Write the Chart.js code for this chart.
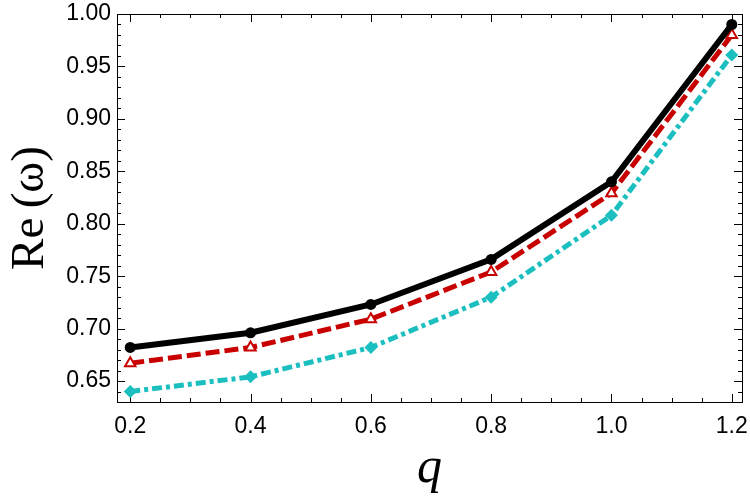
<!DOCTYPE html>
<html>
<head>
<meta charset="utf-8">
<script src="https://cdn.jsdelivr.net/npm/chart.js@4/dist/chart.umd.min.js"></script>
<style>
  html, body { margin: 0; padding: 0; background: #fff; }
  #wrap { width: 750px; height: 503px; position: relative; }
</style>
</head>
<body>
<div id="wrap"><canvas id="c" width="750" height="503"></canvas></div>
<script>
// ---- data ----
const qValues   = [0.2, 0.4, 0.6, 0.8, 1.0, 1.2];
const reBlack   = [0.682, 0.696, 0.723, 0.766, 0.840, 0.990];
const reRed     = [0.667, 0.682, 0.709, 0.754, 0.829, 0.980];
const reCyan    = [0.640, 0.654, 0.682, 0.730, 0.808, 0.961];
const xTickVals = [0.2, 0.4, 0.6, 0.8, 1.0, 1.2];
const yTickVals = [0.65, 0.70, 0.75, 0.80, 0.85, 0.90, 0.95, 1.00];
const xMinorStep = 0.05;
const yMinorStep = 0.01;
const xTitle = 'q';
const yTitle = 'Re\u2009(\u03C9)';

const toPts = ys => qValues.map((x, i) => ({ x: x, y: ys[i] }));

// inward ticks on all four sides + frame
const frameTicks = {
  id: 'frameTicks',
  beforeDatasetsDraw(chart) {
    const { ctx, chartArea: a, scales } = chart;
    const xs = scales.x, ys = scales.y;
    ctx.save();
    ctx.strokeStyle = '#000';
    ctx.lineWidth = 1;
    const majorLen = 8, minorLen = 4;
    const eps = 1e-9;
    const isMajor = (v, list) => list.some(t => Math.abs(t - v) < 1e-6);
    const xStart = Math.ceil((xs.min - eps) / xMinorStep) * xMinorStep;
    for (let v = xStart; v <= xs.max + eps; v += xMinorStep) {
      const px = Math.round(xs.getPixelForValue(v)) + 0.5;
      const len = isMajor(v, xTickVals) ? majorLen : minorLen;
      ctx.beginPath();
      ctx.moveTo(px, a.bottom); ctx.lineTo(px, a.bottom - len);
      ctx.moveTo(px, a.top); ctx.lineTo(px, a.top + len);
      ctx.stroke();
    }
    const yStart = Math.ceil((ys.min - eps) / yMinorStep) * yMinorStep;
    for (let v = yStart; v <= ys.max + eps; v += yMinorStep) {
      const py = Math.round(ys.getPixelForValue(v)) + 0.5;
      const len = isMajor(v, yTickVals) ? majorLen : minorLen;
      ctx.beginPath();
      ctx.moveTo(a.left, py); ctx.lineTo(a.left + len, py);
      ctx.moveTo(a.right, py); ctx.lineTo(a.right - len, py);
      ctx.stroke();
    }
    ctx.strokeRect(Math.round(a.left) + 0.5, Math.round(a.top) + 0.5,
                   Math.round(a.right - a.left), Math.round(a.bottom - a.top));
    ctx.restore();
  }
};

new Chart(document.getElementById('c'), {
  type: 'line',
  data: {
    datasets: [
      {
        label: 'black',
        data: toPts(reBlack),
        borderColor: '#000000',
        backgroundColor: '#000000',
        borderWidth: 6,
        pointStyle: 'circle',
        pointRadius: 5.5,
        pointBorderWidth: 0,
        pointBackgroundColor: '#000000',
        order: 0
      },
      {
        label: 'red',
        data: toPts(reRed),
        borderColor: '#C80000',
        backgroundColor: '#C80000',
        borderWidth: 5,
        borderDash: [14, 5],
        pointStyle: 'triangle',
        pointRadius: 6,
        pointBorderWidth: 2,
        pointBorderColor: '#C80000',
        pointBackgroundColor: '#ffffff',
        order: 1
      },
      {
        label: 'cyan',
        data: toPts(reCyan),
        borderColor: '#1BBFBF',
        backgroundColor: '#1BBFBF',
        borderWidth: 5,
        borderDash: [10, 4, 4, 4],
        pointStyle: 'rectRot',
        pointRadius: 6.5,
        pointBorderWidth: 0,
        pointBackgroundColor: '#1BBFBF',
        order: 2
      }
    ]
  },
  options: {
    responsive: false,
    animation: false,
    devicePixelRatio: 1,
    layout: { padding: { left: 0, right: 7, top: 14, bottom: 0 } },
    plugins: { legend: { display: false }, tooltip: { enabled: false } },
    elements: { line: { tension: 0, borderCapStyle: 'butt', borderJoinStyle: 'miter' } },
    scales: {
      x: {
        type: 'linear',
        min: 0.178,
        max: 1.217,
        grid: { display: false, drawTicks: false },
        border: { display: false },
        afterBuildTicks: s => { s.ticks = xTickVals.map(v => ({ value: v })); },
        afterFit: s => { s.height = 101; s.paddingLeft = 0; s.paddingRight = 0; },
        ticks: {
          color: '#000',
          padding: 11,
          font: { family: '"Liberation Sans", Arial, sans-serif', size: 23 },
          callback: v => Number(v).toFixed(1)
        },
        title: {
          display: true,
          text: xTitle,
          color: '#000',
          font: { family: '"Liberation Serif", "Times New Roman", serif', size: 50, style: 'italic' },
          padding: { top: 0, bottom: 4 }
        }
      },
      y: {
        type: 'linear',
        min: 0.63,
        max: 1.00,
        grid: { display: false, drawTicks: false },
        border: { display: false },
        afterBuildTicks: s => { s.ticks = yTickVals.map(v => ({ value: v })); },
        afterFit: s => { s.width = 117; s.paddingTop = 0; s.paddingBottom = 0; },
        ticks: {
          color: '#000',
          padding: 6,
          font: { family: '"Liberation Sans", Arial, sans-serif', size: 23 },
          callback: v => Number(v).toFixed(2)
        },
        title: {
          display: true,
          text: yTitle,
          color: '#000',
          font: { family: '"Liberation Serif", "Times New Roman", serif', size: 47 },
          padding: { top: 2, bottom: 0 }
        }
      }
    }
  },
  plugins: [frameTicks]
});
</script>
</body>
</html>
